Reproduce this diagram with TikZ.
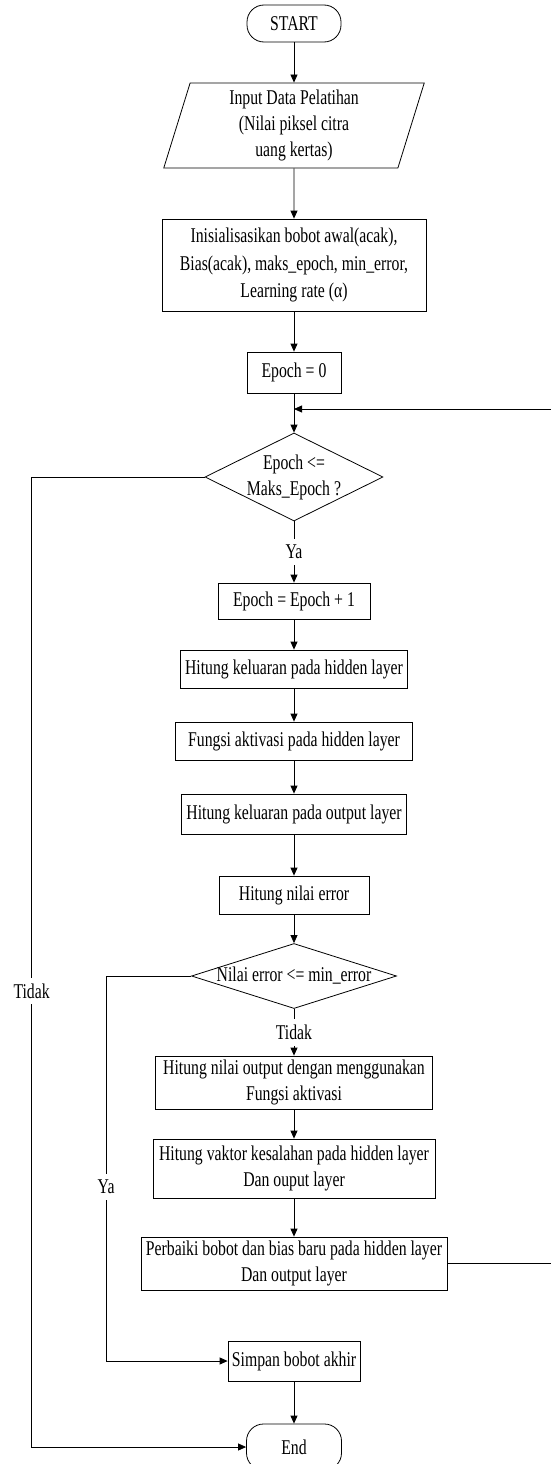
\documentclass[tikz,border=0pt]{standalone}
\usepackage{fontspec}
\setmainfont{Liberation Serif}[FakeStretch=0.75]
\usepackage{tikz}
\usetikzlibrary {arrows.meta}
\usetikzlibrary {shapes.geometric}

\tikzset{
  proses/.style={draw, rectangle, align=center, inner sep=2pt},
  terminal/.style={draw, rectangle, rounded corners=17pt, inner sep=2pt},
  masukan/.style={draw, trapezium, trapezium left angle=77, trapezium right angle=103,
    trapezium stretches=true, align=center, inner sep=0pt},
  keputusan/.style={draw, diamond, inner sep=0pt},
  ket/.style={fill=white, inner xsep=1pt, inner ysep=6pt},
}

\begin{document}
\begin{tikzpicture}[x=1pt, y=-1pt, line width=0.8pt, >={Triangle[length=8pt,width=7pt]},
    font=\fontsize{21}{26}\selectfont]
        \useasboundingbox (0,0) rectangle (550,1464);

        % simpul
        \node[terminal, minimum width=94pt, minimum height=37pt] (start) at (294,23.5) {START};
        \node[masukan, minimum width=261pt, minimum height=85pt] (input) at (294,125.5)
          {Input Data Pelatihan\\(Nilai piksel citra\\uang kertas)};
        \node[proses, minimum width=264pt, minimum height=92pt, font=\fontsize{21}{27.5}\selectfont] (init) at (294,265)
          {Inisialisasikan bobot awal(acak),\\Bias(acak), maks\_epoch, min\_error,\\Learning rate (α)};
        \node[proses, minimum width=94pt, minimum height=41pt] (epoch0) at (294,372.5) {Epoch = 0};
        \coordinate (join) at (294,409);
        \node[keputusan, minimum width=178pt, minimum height=88pt,
          label={[align=center]center:Epoch <=\\Maks\_Epoch ?}] (cek1) at (294,477) {};
        \node[proses, minimum width=152pt, minimum height=36pt] (tambah) at (294,601) {Epoch = Epoch + 1};
        \node[proses, minimum width=227pt, minimum height=38pt] (hidden) at (294,669) {Hitung keluaran pada hidden layer};
        \node[proses, minimum width=237pt, minimum height=38pt] (aktivasi) at (294,741) {Fungsi aktivasi pada hidden layer};
        \node[proses, minimum width=225pt, minimum height=40pt] (output) at (294,814) {Hitung keluaran pada output layer};
        \node[proses, minimum width=150pt, minimum height=38pt] (error) at (294,895) {Hitung nilai error};
        \node[keputusan, minimum width=205pt, minimum height=65pt,
          label={center:Nilai error <= min\_error}] (cek2) at (294,976) {};
        \node[proses, minimum width=277pt, minimum height=53pt] (nilai) at (294,1082.5)
          {Hitung nilai output dengan menggunakan\\Fungsi aktivasi};
        \node[proses, minimum width=282pt, minimum height=59pt] (vektor) at (294,1168.5)
          {Hitung vaktor kesalahan pada hidden layer\\Dan ouput layer};
        \node[proses, minimum width=306pt, minimum height=53pt] (perbaiki) at (294,1263.5)
          {Perbaiki bobot dan bias baru pada hidden layer\\Dan output layer};
        \node[proses, minimum width=132pt, minimum height=40pt] (simpan) at (294,1361) {Simpan bobot akhir};
        \node[terminal, minimum width=95pt, minimum height=46pt] (selesai) at (294,1447) {End};

        % garis
        \draw[->] (start) -- (input);
        \draw[->] (input) -- (init);
        \draw[->] (init) -- (epoch0);
        \draw[->] (epoch0) -- (cek1);
        \draw[->] (cek1) -- node[ket]{Ya} (tambah);
        \draw[->] (tambah) -- (hidden);
        \draw[->] (hidden) -- (aktivasi);
        \draw[->] (aktivasi) -- (output);
        \draw[->] (output) -- (error);
        \draw[->] (error) -- (cek2);
        \draw[->] (cek2) -- node[ket]{Tidak} (nilai);
        \draw[->] (nilai) -- (vektor);
        \draw[->] (vektor) -- (perbaiki);
        \draw[->] (simpan) -- (selesai);

        % kembali ke perulangan
        \draw[->] (perbaiki.east) -- ++(104,0) |- (join);
        \draw[->] (cek1.west) -- ++(-173,0) |- node[ket, pos=0.265]{Tidak} (selesai.west);
        \draw[->] (cek2.west) -- ++(-85,0) |- node[ket, pos=0.274]{Ya} (simpan.west);
      \end{tikzpicture}
\end{document}
